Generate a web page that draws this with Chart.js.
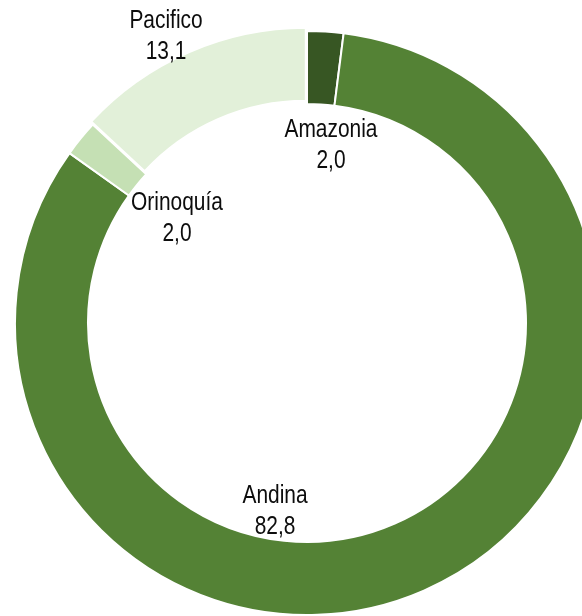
<!DOCTYPE html>
<html>
<head>
<meta charset="utf-8">
<script src="https://cdn.jsdelivr.net/npm/chart.js@4"></script>
<style>
    html, body { margin: 0; padding: 0; background: #fff; overflow: hidden; }
    #wrap { position: absolute; left: 0; top: 0; width: 614px; height: 616px; }
</style>
</head>
<body>
<div id="wrap"><canvas id="chartRegion" width="614" height="616"></canvas></div>
<script>
// Data
const regions = ['Amazonia', 'Andina', 'Orinoquía', 'Pacifico'];
const shares = [2.0, 82.8, 2.0, 13.1];
const colors = ['#375623', '#548235', '#C5E0B4', '#E2F0D9'];

// label block centre, relative to the doughnut centre (px)
const labelOffsets = [[24, -178], [-32, 188], [-130, -105], [-141, -287]];

function fmt(v) {
    return v.toFixed(1).replace('.', ',');
}

const labelPlugin = {
    id: 'ringLabels',
    afterDatasetsDraw(chart) {
        const ctx = chart.ctx;
        const meta = chart.getDatasetMeta(0);
        meta.data.forEach((arc, i) => {
            const x = arc.x + labelOffsets[i][0];
            const y = arc.y + labelOffsets[i][1];
            ctx.save();
            ctx.translate(x, y);
            ctx.scale(0.82, 1);
            ctx.fillStyle = '#0d0d0d';
            ctx.font = '25.5px "Liberation Sans", Arial, sans-serif';
            ctx.textAlign = 'center';
            ctx.textBaseline = 'middle';
            ctx.fillText(regions[i], 0, -15);
            ctx.fillText(fmt(shares[i]), 0, 16);
            ctx.restore();
        });
    }
};

const ctxRegion = document.getElementById('chartRegion').getContext('2d');

const chartRegion = new Chart(ctxRegion, {
    type: 'doughnut',
    data: {
        labels: regions,
        datasets: [{
            data: shares,
            backgroundColor: colors,
            borderColor: '#ffffff',
            borderWidth: 2,
            offset: [0, 0, 0, 11]
        }]
    },
    options: {
        responsive: false,
        animation: false,
        events: [],
        radius: 292,
        cutout: '75%',
        layout: {
            padding: { left: 16, right: 16, top: 32, bottom: 2 }
        },
        plugins: {
            legend: { display: false },
            tooltip: { enabled: false }
        }
    },
    plugins: [labelPlugin]
});
</script>
</body>
</html>
